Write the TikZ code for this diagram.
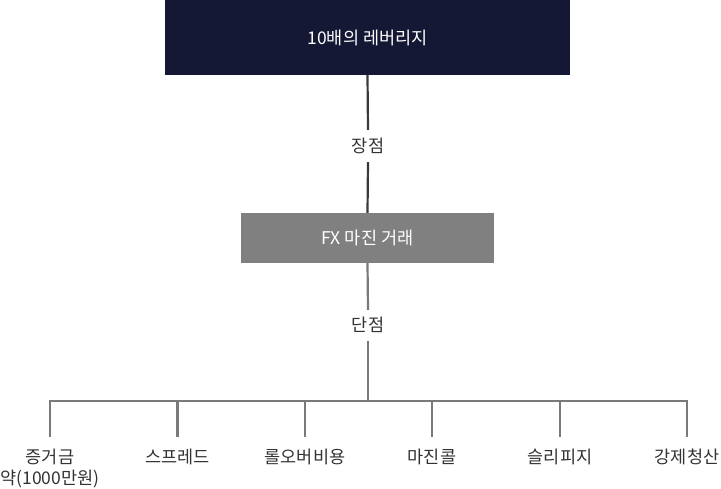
\documentclass[tikz,border=0pt]{standalone}
\usepackage{fontspec}
\setmainfont{Noto Sans CJK KR}
\definecolor{navy}{HTML}{141834}
\definecolor{midgray}{HTML}{808080}
\definecolor{txtgray}{HTML}{333333}
\definecolor{linedark}{HTML}{3A3A3A}
\definecolor{linegray}{HTML}{7A7A7A}
\tikzset{
  lblfont/.style={font=\fontsize{17.5pt}{21pt}\selectfont},
  topbox/.style={lblfont, fill=navy, text=white, minimum width=405pt, minimum height=75pt, inner sep=0pt},
  midbox/.style={lblfont, fill=midgray, text=white, minimum width=253pt, minimum height=50pt, inner sep=0pt},
  edgelabel/.style={lblfont, text=txtgray, inner sep=0pt, anchor=base},
  leaf/.style={lblfont, text=txtgray, inner sep=0pt, anchor=north, text height=26pt, text depth=4pt},
  leafextra/.style={lblfont, text=txtgray, inner sep=0pt, anchor=base},
  darkline/.style={draw=linedark, line width=2.2pt},
  grayline/.style={draw=linegray, line width=2.2pt}
}
\begin{document}
\begin{tikzpicture}[x=1pt,y=1pt]
\useasboundingbox (0,0) rectangle (721,-489);
\node[topbox] (top) at (367.5,-37.5) {10배의 레버리지};
\node[midbox] (mid) at (367.5,-238) {FX 마진 거래};
\node[edgelabel, text height=23pt, text depth=9pt] (pro) at (368,-153) {장점};
\node[edgelabel, text height=22pt, text depth=9pt] (con) at (368,-332) {단점};
\draw[darkline] (top.south) -- (pro.north);
\draw[darkline] (pro.south) -- (mid.north);
\draw[grayline] (mid.south) -- (con.north);
\coordinate (j) at (368,-401);
\draw[grayline] (con.south) -- (j);
\node[leaf] (l1) at (50,-437) {증거금};
\node[leafextra] (l1b) at ([yshift=-21.5pt]l1.base) {약(1000만원)};
\node[leaf] (l2) at (177.5,-437) {스프레드};
\node[leaf] (l3) at (305,-437) {롤오버비용};
\node[leaf] (l4) at (432,-437) {마진콜};
\node[leaf] (l5) at (560,-437) {슬리피지};
\node[leaf] (l6) at (687,-437) {강제청산};
\coordinate (t1) at (50,-401);
\coordinate (t2) at (177.5,-401);
\coordinate (t3) at (305,-401);
\coordinate (t4) at (432,-401);
\coordinate (t5) at (560,-401);
\coordinate (t6) at (687,-401);
\draw[grayline] (l1.north) -- (t1) -- (t6) -- (l6.north);
\draw[grayline] (t2) -- (l2.north);
\draw[grayline] (t3) -- (l3.north);
\draw[grayline] (t4) -- (l4.north);
\draw[grayline] (t5) -- (l5.north);
\end{tikzpicture}
\end{document}
